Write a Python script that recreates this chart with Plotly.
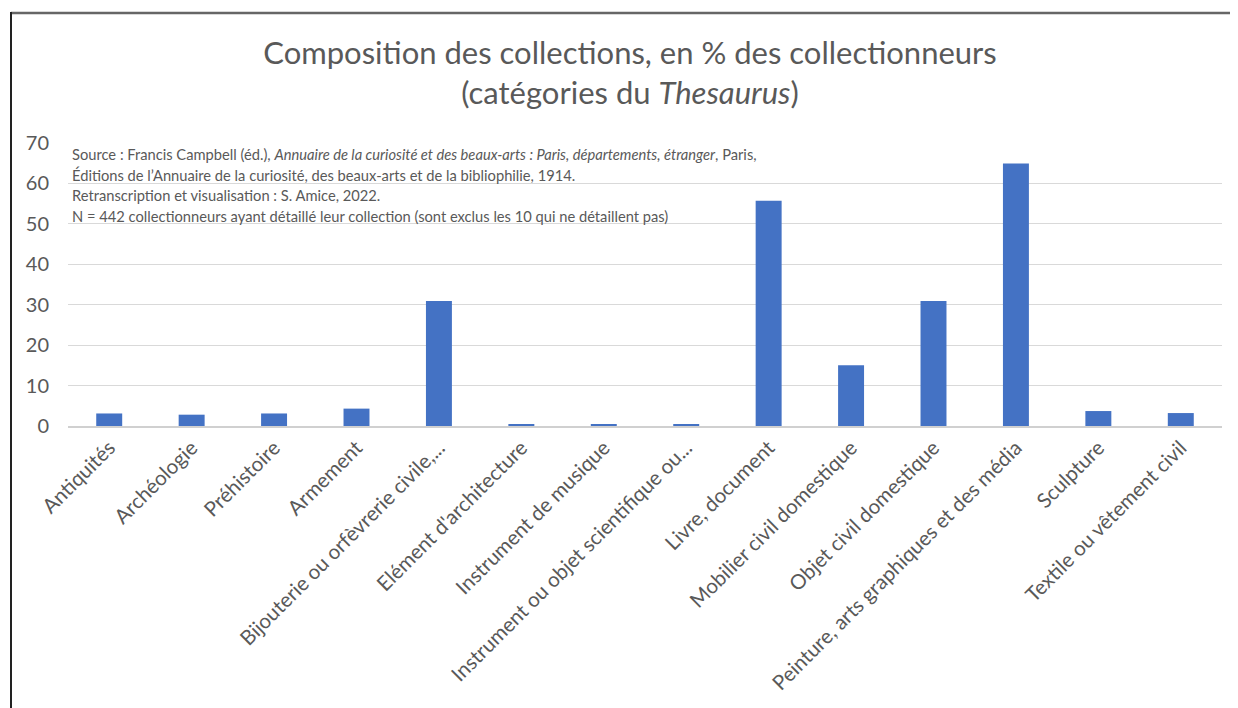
import plotly.graph_objects as go

categories = [
    "Antiquités", "Archéologie", "Préhistoire", "Armement",
    "Bijouterie ou orfèvrerie civile,...", "Elément d'architecture",
    "Instrument de musique", "Instrument ou objet scientifique ou...",
    "Livre, document", "Mobilier civil domestique", "Objet civil domestique",
    "Peinture, arts graphiques et des média", "Sculpture", "Textile ou vêtement civil",
]
values = [3.1, 2.8, 3.1, 4.3, 30.9, 0.5, 0.35, 0.5, 55.7, 15.0, 30.9, 64.9, 3.7, 3.2]
y_ticks = [0, 10, 20, 30, 40, 50, 60, 70]

source_lines = [
    "Source : Francis Campbell (éd.), <i>Annuaire de la curiosité et des beaux-arts : Paris, départements, étranger</i>, Paris,",
    "Éditions de l’Annuaire de la curiosité, des beaux-arts et de la bibliophilie, 1914.",
    "Retranscription et visualisation : S. Amice, 2022.",
    "N = 442 collectionneurs ayant détaillé leur collection (sont exclus les 10 qui ne détaillent pas)",
]

FONT = "Lato"
GREY = "#595959"
W, H = 1238, 708
OFF = 8  # page body margin offset
L, R, T, B = 68 - OFF, 1238 - (1222 - OFF), 143 - OFF, 708 - (426 - OFF)
pw, ph = W - L - R, H - T - B

def px(x):  # screen x -> paper
    return (x - OFF - L) / pw

def py(y):  # screen y -> paper
    return (H - B - (y - OFF)) / ph

fig = go.Figure(go.Bar(
    x=categories, y=values, marker_color="#4472C4",
    marker_line=dict(color="#4472C4", width=0),
))

annotations = []
for i, line in enumerate(source_lines):
    annotations.append(dict(
        xref="paper", yref="paper", x=px(70), y=py(154 + i * 20.5),
        xanchor="left", yanchor="middle", showarrow=False, text=line,
        font=dict(family=FONT, size=14.7, color=GREY), align="left",
    ))

fig.update_layout(
    width=W, height=H,
    margin=dict(l=L, r=R, t=T, b=B, autoexpand=False),
    paper_bgcolor="white", plot_bgcolor="white",
    title=dict(
        text="Composition des collections, en % des collectionneurs<br>(catégories du <i>Thesaurus</i>)",
        x=px(630), xref="paper", xanchor="center",
        y=1 - (64 - OFF) / H, yref="container", yanchor="middle",
        font=dict(family=FONT, size=31, color=GREY),
    ),
    bargap=0.685,
    showlegend=False,
    xaxis=dict(
        tickangle=-45, tickfont=dict(family=FONT, size=20.5, color=GREY),
        showline=True, linecolor="#d0d0d0", linewidth=1.5, ticks="",
        showgrid=False,
    ),
    yaxis=dict(
        range=[0, 70], tickvals=y_ticks, showgrid=True, gridcolor="#d9d9d9",
        gridwidth=1.3, zeroline=False, showline=False, ticks="",
        tickfont=dict(family=FONT, size=20, color=GREY), ticklabelstandoff=18,
    ),
    annotations=annotations,
    shapes=[
        dict(type="line", xref="paper", yref="paper", x0=px(11), x1=px(1250),
             y0=py(13), y1=py(13), line=dict(color="#666666", width=2.5)),
        dict(type="line", xref="paper", yref="paper", x0=px(11), x1=px(11),
             y0=py(12), y1=py(720), line=dict(color="#222222", width=2)),
    ],
)

fig.write_html("out.html")
